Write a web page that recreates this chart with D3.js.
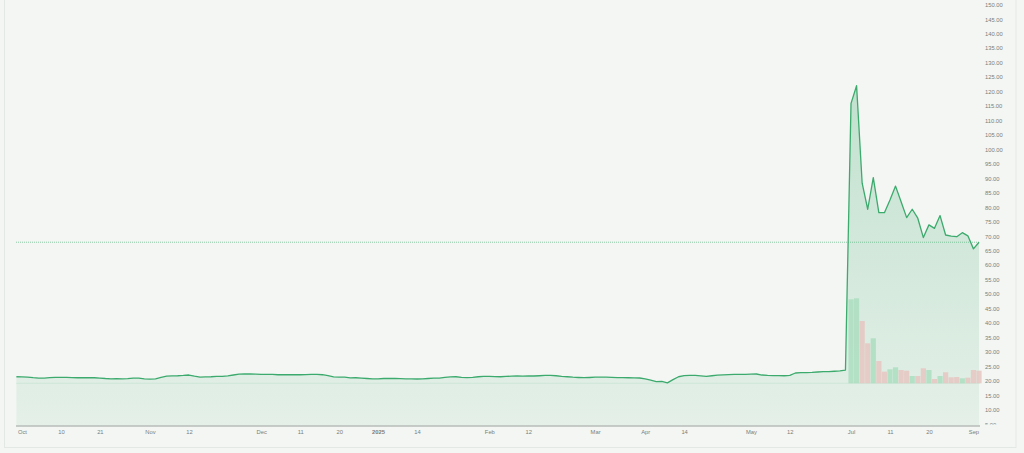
<!DOCTYPE html>
<html>
<head>
<meta charset="utf-8">
<script src="https://cdn.jsdelivr.net/npm/d3@7"></script>
<style>
  html, body { margin: 0; padding: 0; background: #f4f6f4; }
  svg { display: block; font-family: "Noto Sans", "DejaVu Sans", sans-serif; }
</style>
</head>
<body>
<svg id="chart" width="1024" height="453"></svg>
<script>
// ---- data ----
const tickIndex = [1, 8, 15, 24, 31, 44, 51, 58, 65, 72, 85, 92, 104, 113, 120, 132, 139, 150, 157, 164, 172];
const tickLabels = ["Oct", "10", "21", "Nov", "12", "Dec", "11", "20", "2025", "14", "Feb", "12", "Mar", "Apr", "14", "May", "12", "Jul", "11", "20", "Sep"];

const prices = [
  21.4, 21.35, 21.3, 21.1, 20.95, 20.9, 21.1, 21.2, 21.2, 21.2,
  21.1, 21.05, 21.1, 21.05, 21.05, 20.95, 20.8, 20.7, 20.75, 20.7,
  20.75, 20.9, 20.95, 20.7, 20.6, 20.7, 21.2, 21.6, 21.7, 21.75,
  21.85, 22.0, 21.6, 21.3, 21.35, 21.4, 21.5, 21.55, 21.7, 22.0,
  22.3, 22.35, 22.35, 22.3, 22.25, 22.25, 22.2, 22.1, 22.1, 22.15,
  22.1, 22.1, 22.15, 22.2, 22.25, 22.1, 21.8, 21.35, 21.3, 21.25,
  21.0, 21.05, 20.95, 20.8, 20.65, 20.7, 20.8, 20.85, 20.8, 20.75,
  20.7, 20.65, 20.62, 20.7, 20.8, 20.9, 20.95, 21.15, 21.35, 21.4,
  21.2, 21.07, 21.2, 21.4, 21.55, 21.5, 21.45, 21.4, 21.5, 21.6,
  21.66, 21.65, 21.66, 21.66, 21.75, 21.85, 21.9, 21.75, 21.55, 21.4,
  21.25, 21.15, 21.07, 21.15, 21.25, 21.3, 21.3, 21.2, 21.1, 21.07,
  21.05, 21.0, 20.97, 20.7, 20.25, 19.75, 19.8, 19.3, 20.4, 21.4,
  21.8, 21.9, 21.85, 21.7, 21.55, 21.75, 21.95, 22.05, 22.15, 22.25,
  22.25, 22.24, 22.3, 22.35, 22.0, 21.85, 21.76, 21.76, 21.75, 21.9,
  22.7, 22.8, 22.8, 22.9, 23.05, 23.15, 23.2, 23.3, 23.4, 23.7,
  115.9, 122.0, 88.3, 79.3, 90.2, 78.1, 78.1, 82.5, 87.3, 81.9,
  76.4, 79.3, 76.2, 69.5, 73.9, 72.7, 77.1, 70.4, 70.0, 69.8,
  71.2, 70.1, 65.6, 67.9
];

// volume (millions) for the sessions starting at volumeStart
const volumeStart = 150;
const volumes = [8.4, 8.5, 6.23, 4.0, 4.5, 2.23, 1.16, 1.4, 1.6, 1.33, 1.26, 0.73, 0.73, 1.5, 1.33, 0.43, 0.73, 1.1, 0.6, 0.63, 0.5, 0.56, 1.33, 1.26];
const volumeUp = [1, 1, 0, 0, 1, 0, 0, 1, 1, 0, 0, 1, 0, 0, 1, 0, 1, 0, 0, 0, 1, 0, 0, 0];

const yTicks = d3.range(5, 150.001, 5);
const lastPrice = prices[prices.length - 1];

// ---- layout ----
const svg = d3.select("#chart");
const plotLeft = 16, plotRight = 980, plotBottom = 426;

const x = d3.scaleLinear().domain([0, prices.length - 1]).range([16.4, 979]);
const y = d3.scaleLinear().domain([5, 150]).range([424.2, 4.7]);
const yVol = d3.scaleLinear().domain([0, 10]).range([383.3, 283.3]);

// card
svg.append("rect").attr("x", 4.5).attr("y", -2).attr("width", 1011.5).attr("height", 449.5)
  .attr("fill", "#f3f6f3").attr("stroke", "#e4e8e4").attr("stroke-width", 1);

const defs = svg.append("defs");
const grad = defs.append("linearGradient").attr("id", "areaGrad")
  .attr("gradientUnits", "userSpaceOnUse").attr("x1", 0).attr("x2", 0).attr("y1", 80).attr("y2", plotBottom);
grad.append("stop").attr("offset", "0%").attr("stop-color", "#3aa86a").attr("stop-opacity", 0.27);
grad.append("stop").attr("offset", "100%").attr("stop-color", "#3aa86a").attr("stop-opacity", 0.08);

defs.append("clipPath").attr("id", "axisClip").append("rect")
  .attr("x", 980).attr("y", 0).attr("width", 44).attr("height", 424.6);

// area
const idx = d3.range(prices.length);
const area = d3.area().x(i => x(i)).y0(plotBottom).y1(i => y(prices[i]));
svg.append("path").datum(idx).attr("d", area).attr("fill", "url(#areaGrad)");

// volume pane separator
svg.append("line").attr("x1", plotLeft).attr("x2", plotRight)
  .attr("y1", yVol(0)).attr("y2", yVol(0))
  .attr("stroke", "#3aa86a").attr("stroke-opacity", 0.1).attr("stroke-width", 1);

// volume bars
svg.append("g").selectAll("rect").data(volumes).join("rect")
  .attr("x", (d, i) => x(volumeStart + i) - 2.6)
  .attr("width", 5.2)
  .attr("y", d => yVol(d))
  .attr("height", d => yVol(0) - yVol(d))
  .attr("fill", (d, i) => volumeUp[i] ? "#acdec0" : "#e6c6c1")
  .attr("fill-opacity", 0.85);

// last price dotted line
svg.append("line").attr("x1", plotLeft).attr("x2", plotRight)
  .attr("y1", y(lastPrice)).attr("y2", y(lastPrice))
  .attr("stroke", "#3aa86a").attr("stroke-opacity", 0.55)
  .attr("stroke-width", 1).attr("stroke-dasharray", "1,1");

// price line
const line = d3.line().x(i => x(i)).y(i => y(prices[i]));
svg.append("path").datum(idx).attr("d", line)
  .attr("fill", "none").attr("stroke", "#3caa6d").attr("stroke-width", 1.3)
  .attr("stroke-linejoin", "round");

// x axis
const xAxis = d3.axisBottom(x).tickValues(tickIndex)
  .tickFormat((d, i) => tickLabels[i]).tickSize(0).tickPadding(4);
const gx = svg.append("g").attr("transform", `translate(0,${plotBottom})`).call(xAxis);
gx.select(".domain").remove();
gx.selectAll("text").attr("fill", "#7a7e7a").attr("font-size", 5.8)
  .attr("font-weight", (d, i) => tickLabels[i] === "2025" ? "bold" : "normal");
svg.append("line").attr("x1", plotLeft).attr("x2", plotRight)
  .attr("y1", plotBottom).attr("y2", plotBottom)
  .attr("stroke", "#b9bdb9").attr("stroke-width", 1.4);

// y axis (right)
const yAxis = d3.axisRight(y).tickValues(yTicks).tickFormat(d3.format(".2f"))
  .tickSize(0).tickPadding(0);
const gy = svg.append("g").attr("clip-path", "url(#axisClip)")
  .append("g").attr("transform", "translate(985,0)").call(yAxis);
gy.select(".domain").remove();
gy.selectAll("text").attr("fill", "#7a7e7a").attr("font-size", 5.8);
</script>
</body>
</html>
